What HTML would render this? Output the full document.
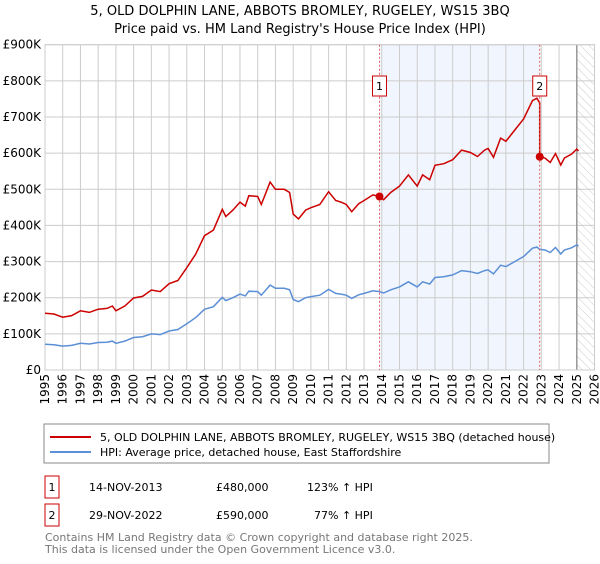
<!DOCTYPE html>
<html><head><meta charset="utf-8">
<style>
body{margin:0;background:#fff;font-family:"DejaVu Sans","Liberation Sans",sans-serif;}
svg text{font-family:"DejaVu Sans","Liberation Sans",sans-serif;}
</style></head>
<body>
<svg id="c" width="600" height="560" viewBox="0 0 600 560" xmlns="http://www.w3.org/2000/svg">
<text x="300" y="15" text-anchor="middle" font-size="13" fill="#000">5, OLD DOLPHIN LANE, ABBOTS BROMLEY, RUGELEY, WS15 3BQ</text>
<text x="300" y="33" text-anchor="middle" font-size="13" fill="#000">Price paid vs. HM Land Registry's House Price Index (HPI)</text>
<defs><pattern id="hatch" width="6" height="6" patternUnits="userSpaceOnUse" patternTransform="rotate(-45)"><line x1="0" y1="0" x2="0" y2="6" stroke="#ccc" stroke-width="1"/></pattern></defs>
<g id="plot"></g>
<rect x="44" y="424" width="505" height="39" fill="#fff" stroke="#888"/>
<line x1="50" y1="437" x2="91" y2="437" stroke="#cc0000" stroke-width="2"/>
<text x="100" y="441" font-size="11">5, OLD DOLPHIN LANE, ABBOTS BROMLEY, RUGELEY, WS15 3BQ (detached house)</text>
<line x1="50" y1="452" x2="91" y2="452" stroke="#5b8fd6" stroke-width="2"/>
<text x="100" y="456" font-size="11">HPI: Average price, detached house, East Staffordshire</text>
<g>
<rect x="45" y="476" width="14" height="22" fill="#fff" stroke="#cc0000"/>
<text x="52" y="491" font-size="11" text-anchor="middle">1</text>
<text x="89" y="491" font-size="11">14-NOV-2013</text>
<text x="216" y="491" font-size="11">£480,000</text>
<text x="307" y="491" font-size="11">123% ↑ HPI</text></g>
<g>
<rect x="45" y="504" width="14" height="22" fill="#fff" stroke="#cc0000"/>
<text x="52" y="519" font-size="11" text-anchor="middle">2</text>
<text x="89" y="519" font-size="11">29-NOV-2022</text>
<text x="216" y="519" font-size="11">£590,000</text>
<text x="314" y="519" font-size="11">77% ↑ HPI</text></g>
<text x="45" y="541" font-size="11" fill="#777">Contains HM Land Registry data © Crown copyright and database right 2025.</text>
<text x="45" y="553" font-size="11" fill="#777">This data is licensed under the Open Government Licence v3.0.</text>
</svg>
<script>
const hpiYears=[1995,1995.5,1996,1996.5,1997,1997.5,1998,1998.5,1998.8,1999,1999.5,2000,2000.5,2001,2001.5,2002,2002.5,2003,2003.5,2004,2004.5,2005,2005.2,2005.6,2006,2006.3,2006.5,2007,2007.2,2007.7,2008,2008.5,2008.8,2009,2009.3,2009.7,2010,2010.5,2011,2011.4,2011.7,2012,2012.3,2012.7,2013,2013.5,2013.87,2014.1,2014.5,2015,2015.5,2016,2016.3,2016.7,2017,2017.5,2018,2018.5,2019,2019.4,2019.8,2020,2020.3,2020.7,2021,2021.5,2022,2022.5,2022.75,2022.91,2023.2,2023.5,2023.8,2024.1,2024.3,2024.7,2025,2025.1];
const hpiValues=[71,70,66,68,74,72,76,77,80,74,80,90,92,100,98,108,112,128,145,168,175,201,192,200,210,205,218,217,207,235,226,226,222,195,189,200,203,207,223,212,210,207,198,208,212,219,217,213,222,230,244,230,244,238,256,258,263,275,272,267,275,277,266,290,286,300,314,337,340,334,332,325,339,321,332,338,346,343];
const sales=[{t:2013.87,p:480,label:"1"},{t:2022.91,p:590,label:"2"}];
const yTicks=[0,100,200,300,400,500,600,700,800,900];
const yTickLabels=["£0","£100K","£200K","£300K","£400K","£500K","£600K","£700K","£800K","£900K"];
const xTicks=[1995,1996,1997,1998,1999,2000,2001,2002,2003,2004,2005,2006,2007,2008,2009,2010,2011,2012,2013,2014,2015,2016,2017,2018,2019,2020,2021,2022,2023,2024,2025,2026];

const L=45,R=594.5,T=44.7,B=370,X0=1995,X1=2026,YMAX=900;
const x=t=>L+(t-X0)/(X1-X0)*(R-L);
const y=v=>B-v/YMAX*(B-T);
const NS="http://www.w3.org/2000/svg";
const g=document.getElementById('plot');
function mk(tag,attrs,parent){const e=document.createElementNS(NS,tag);for(const k in attrs)e.setAttribute(k,attrs[k]);(parent||g).appendChild(e);return e;}

// shaded period
let sh=mk('rect',{x:x(sales[0].t),y:T,width:x(sales[1].t)-x(sales[0].t),height:B-T,fill:'#eef3fc',opacity:0.8});


// hatch
let ht=mk('rect',{x:x(2025),y:T,width:R-x(2025),height:B-T,fill:'url(#hatch)'});


// grid
xTicks.forEach(t=>{
  let l=mk('line',{x1:x(t),x2:x(t),y1:T,y2:B,stroke:'#ccc','stroke-width':1});
  
  
  let tx=mk('text',{x:0,y:0,'font-size':12,transform:`translate(${x(t)+4},${B+4}) rotate(-90)`,'text-anchor':'end'});
  tx.textContent=t;
  
  
});
yTicks.forEach((v,i)=>{
  let l=mk('line',{x1:L,x2:R,y1:y(v),y2:y(v),stroke:'#ccc','stroke-width':1});
  
  
  let tx=mk('text',{x:L-4,y:y(v)+4,'font-size':12,'text-anchor':'end'});
  tx.textContent=yTickLabels[i];
  
  
});
let ve=mk('line',{x1:x(2025),x2:x(2025),y1:T,y2:B,stroke:'#999','stroke-width':1.5});


let bd=mk('rect',{x:L,y:T,width:R-L,height:B-T,fill:'none',stroke:'#ccc'});



function hpiAt(t){for(let i=1;i<hpiYears.length;i++){if(t<=hpiYears[i]){const f=(t-hpiYears[i-1])/(hpiYears[i]-hpiYears[i-1]);return hpiValues[i-1]+f*(hpiValues[i]-hpiValues[i-1]);}}return hpiValues[hpiValues.length-1];}
// blue
let bp=hpiYears.map((t,i)=>x(t).toFixed(1)+','+y(hpiValues[i]).toFixed(1)).join(' ');
let bl=mk('polyline',{points:bp,fill:'none',stroke:'#5b8fd6','stroke-width':1.5});


// red: indexed from sales
let pts=[];
const h1=hpiAt(sales[0].t),h2=hpiAt(sales[1].t);
hpiYears.forEach((t,i)=>{
  if(t<sales[1].t){pts.push([t,sales[0].p*hpiValues[i]/h1]);}
});
pts.push([sales[1].t,sales[0].p*h2/h1]);
pts.push([sales[1].t,sales[1].p]);
hpiYears.forEach((t,i)=>{if(t>sales[1].t)pts.push([t,sales[1].p*hpiValues[i]/h2]);});
let rl=mk('polyline',{points:pts.map(p=>x(p[0]).toFixed(1)+','+y(p[1]).toFixed(1)).join(' '),fill:'none',stroke:'#cc0000','stroke-width':1.5});


sales.forEach(s=>{
  let vl=mk('line',{x1:x(s.t),x2:x(s.t),y1:T,y2:B,stroke:'#e06060','stroke-width':1,'stroke-dasharray':'2,2'});
  
  
  let d=mk('circle',{cx:x(s.t),cy:y(s.p),r:4,fill:'#cc0000'});
  
  
  let bx=mk('rect',{x:x(s.t)-7,y:76,width:14,height:20,fill:'#fff',stroke:'#cc0000'});
  
  
  let tx=mk('text',{x:x(s.t),y:90,'font-size':11,'text-anchor':'middle'});
  tx.textContent=s.label;
  
  
});
</script>
</body></html>
